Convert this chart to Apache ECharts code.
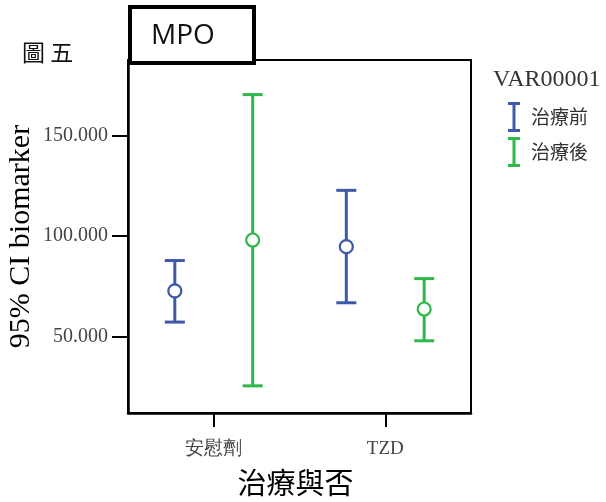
<!DOCTYPE html>
<html>
<head>
<meta charset="utf-8">
<script src="https://cdn.jsdelivr.net/npm/echarts@6/dist/echarts.min.js"></script>
<style>
  html, body { margin: 0; padding: 0; background: #fff; }
  #chart { width: 606px; height: 502px; }
</style>
</head>
<body>
<div id="chart"></div>
<script>
// Groups on the x axis
const categories = ['安慰劑', 'TZD'];
// Series names (VAR00001 levels)
const seriesNames = ['治療前', '治療後'];
// 95% CI of the biomarker: mean, lower and upper bound per group
const beforeMean = [72.7, 94.7];
const beforeLow = [57.2, 66.8];
const beforeHigh = [87.8, 122.7];
const afterMean = [98.0, 63.7];
const afterLow = [25.5, 47.9];
const afterHigh = [170.3, 78.8];
// Y axis tick labels
const yTicks = [50, 100, 150];

const blue = '#3E58AC';
const green = '#2EB848';
const serif = '"Liberation Serif", "DejaVu Serif", serif';
const cjk = '"Noto Sans CJK TC", "Noto Sans", sans-serif';

function buildRows(mean, low, high) {
  return categories.map((c, i) => [i, mean[i], low[i], high[i]]);
}

// Error bar with caps plus a hollow circle at the mean
function makeRenderer(shift) {
  return function (params, api) {
    const ci = api.value(0);
    const band = api.size([1, 0])[0];
    const dx = band * shift;
    const pm = api.coord([ci, api.value(1)]);
    const pl = api.coord([ci, api.value(2)]);
    const ph = api.coord([ci, api.value(3)]);
    const x = pm[0] + dx;
    const cap = 10;
    const color = api.visual('color');
    const lineStyle = { stroke: color, lineWidth: 3 };
    return {
      type: 'group',
      children: [
        { type: 'line', shape: { x1: x, y1: ph[1], x2: x, y2: pl[1] }, style: lineStyle },
        { type: 'line', shape: { x1: x - cap, y1: ph[1], x2: x + cap, y2: ph[1] }, style: lineStyle },
        { type: 'line', shape: { x1: x - cap, y1: pl[1], x2: x + cap, y2: pl[1] }, style: lineStyle },
        { type: 'circle', shape: { cx: x, cy: pm[1], r: 6.5 }, style: { fill: '#fff', stroke: color, lineWidth: 2.2 } }
      ]
    };
  };
}

const chart = echarts.init(document.getElementById('chart'), null, { renderer: 'canvas' });

const errIcon = 'path://M0,0H12V3H7.5V27H12V30H0V27H4.5V3H0Z';

chart.setOption({
  backgroundColor: '#fff',
  animation: false,
  title: [
    { text: '圖 五', left: 17, top: 36, textStyle: { fontFamily: cjk, fontSize: 23, fontWeight: 'normal', color: '#111' } },
    { text: 'VAR00001', left: 488, top: 63, textStyle: { fontFamily: serif, fontSize: 24, fontWeight: 'normal', color: '#333' } }
  ],
  graphic: [
    {
      type: 'rect', left: 128, top: 5, z: 100,
      shape: { width: 124, height: 56 },
      style: { fill: '#fff', stroke: '#000', lineWidth: 4 }
    },
    {
      type: 'text', left: 151, top: 22, z: 101,
      style: { text: 'MPO', font: '28px "Open Sans", "Noto Sans", sans-serif', fill: '#111' }
    }
  ],
  legend: {
    orient: 'vertical',
    left: 503, top: 97,
    itemWidth: 12, itemHeight: 30, itemGap: 5,
    textStyle: { fontFamily: cjk, fontSize: 19, color: '#333', padding: [0, 0, 0, 6] },
    data: [
      { name: seriesNames[0], icon: errIcon },
      { name: seriesNames[1], icon: errIcon }
    ]
  },
  grid: {
    left: 128, top: 60, right: 135, bottom: 89,
    outerBoundsMode: 'none',
    show: true, borderColor: '#000', borderWidth: 2
  },
  xAxis: {
    type: 'category',
    data: categories,
    name: '治療與否',
    nameLocation: 'middle',
    nameGap: 55,
    nameMoveOverlap: false,
    nameTextStyle: { fontFamily: cjk, fontSize: 29, color: '#000', padding: [0, 8, 0, 0] },
    axisLine: { lineStyle: { color: '#000', width: 2.5 } },
    axisTick: { show: true, interval: 0, alignWithLabel: true, length: 14, lineStyle: { color: '#000', width: 2 } },
    axisLabel: { interval: 0, margin: 27, fontFamily: serif, fontSize: 19, color: '#444' },
    splitLine: { show: false }
  },
  yAxis: {
    type: 'value',
    min: 12,
    max: 187.5,
    name: '95% CI biomarker',
    nameLocation: 'middle',
    nameGap: 92,
    nameMoveOverlap: false,
    nameTextStyle: { fontFamily: serif, fontSize: 30, color: '#000' },
    axisLine: { show: true, lineStyle: { color: '#000', width: 2.5 } },
    axisTick: { show: true, length: 16, customValues: yTicks, lineStyle: { color: '#000', width: 2 } },
    axisLabel: {
      margin: 20, fontFamily: serif, fontSize: 20, color: '#444',
      customValues: yTicks,
      formatter: v => v.toFixed(3)
    },
    splitLine: { show: false }
  },
  series: [
    {
      name: seriesNames[0], type: 'custom',
      itemStyle: { color: blue },
      renderItem: makeRenderer(-0.227),
      encode: { x: 0, y: [1, 2, 3] },
      data: buildRows(beforeMean, beforeLow, beforeHigh)
    },
    {
      name: seriesNames[1], type: 'custom',
      itemStyle: { color: green },
      renderItem: makeRenderer(0.227),
      encode: { x: 0, y: [1, 2, 3] },
      data: buildRows(afterMean, afterLow, afterHigh)
    }
  ]
});
</script>
</body>
</html>
